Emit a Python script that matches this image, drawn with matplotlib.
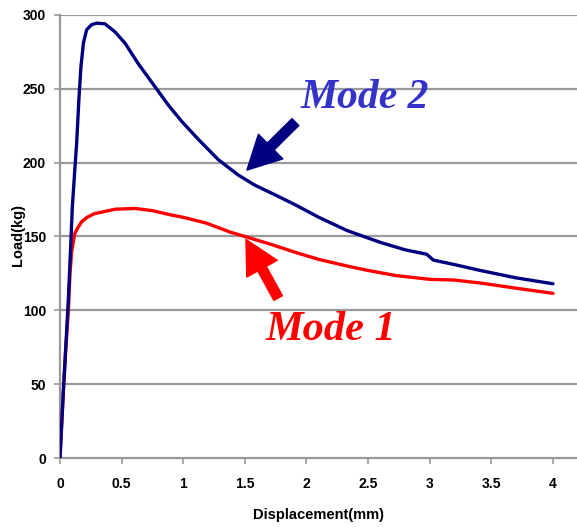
import matplotlib
matplotlib.use("Agg")
import matplotlib.pyplot as plt

# Mode 2 (blue)
disp_mode2 = [0, 0.027, 0.05, 0.068, 0.085, 0.1, 0.12, 0.135, 0.154, 0.17, 0.19, 0.216,
              0.257, 0.3, 0.365, 0.446, 0.527, 0.635, 0.757, 0.879, 0.987, 1.12, 1.285,
              1.447, 1.58, 1.75, 1.92, 2.1, 2.33, 2.6, 2.8, 2.975, 3.03, 3.2, 3.41, 3.7, 4.0]
load_mode2 = [0, 45, 80, 108, 140, 170, 195, 213, 244, 265, 281, 290,
              293.5, 294.5, 294, 288.6, 281, 267, 253, 239, 228, 216, 202,
              191.6, 184.8, 178, 171, 163, 154, 146, 141, 138, 134, 131, 127, 122, 118]

# Mode 1 (red)
disp_mode1 = [0, 0.027, 0.05, 0.068, 0.081, 0.095, 0.12, 0.145, 0.176, 0.22, 0.28, 0.365,
              0.45, 0.61, 0.75, 0.906, 1.0, 1.19, 1.38, 1.46, 1.7, 1.92, 2.1, 2.33, 2.5,
              2.73, 3.0, 3.2, 3.41, 3.7, 4.0]
load_mode1 = [0, 45, 78, 100, 125, 140, 152, 156, 160, 163, 165.5, 167,
              168.5, 169, 167.5, 164.5, 163, 159, 153, 151, 145, 139, 134.5, 130, 127,
              123.5, 121, 120.5, 118.5, 115, 111.5]

xticks = [0, 0.5, 1, 1.5, 2, 2.5, 3, 3.5, 4]
xticklabels = ["0", "0.5", "1", "1.5", "2", "2.5", "3", "3.5", "4"]
yticks = [0, 50, 100, 150, 200, 250, 300]

tickfont = ["Liberation Sans", "DejaVu Sans"]

fig = plt.figure(figsize=(5.77, 5.27), dpi=100)
ax = fig.add_axes([60 / 577, 1 - 458 / 527, 1 - 60 / 577, (458 - 15) / 527])

grid_c = "#999999"
for yv in yticks[1:]:
    ax.axhline(yv, color=grid_c, lw=1.6, zorder=1)

ax.plot(disp_mode1, load_mode1, color="#FF0000", lw=2.4, zorder=3,
        solid_joinstyle="round", solid_capstyle="round")
ax.plot(disp_mode2, load_mode2, color="#000080", lw=2.4, zorder=4,
        solid_joinstyle="round", solid_capstyle="round")

ax.set_xlim(0, 4.195)
ax.set_ylim(0, 300)
ax.set_xticks(xticks)
ax.set_xticklabels(xticklabels)
ax.set_yticks(yticks)
for s in ["top", "right"]:
    ax.spines[s].set_visible(False)
for s in ["left", "bottom"]:
    ax.spines[s].set_color(grid_c)
    ax.spines[s].set_linewidth(1.6)
ax.tick_params(axis="both", colors=grid_c, length=4, width=1.2, direction="out")
for lab in ax.get_xticklabels() + ax.get_yticklabels():
    lab.set_color("black")
    lab.set_fontweight("bold")
    lab.set_fontsize(10)
    lab.set_family(tickfont)
ax.tick_params(axis="x", pad=10)
ax.tick_params(axis="y", pad=6)

ax.set_xlabel("Displacement(mm)", fontsize=10.5, fontweight="bold", family=tickfont)
ax.xaxis.set_label_coords((318 - 60) / 517, -(515 - 458) / 443)
ax.set_ylabel("Load(kg)", fontsize=10.5, fontweight="bold", family=tickfont)
ax.yaxis.set_label_coords(-(60 - 18) / 517, (458 - 235) / 443)
ax.yaxis.label.set_va("center")
ax.xaxis.label.set_va("center")

serif = ["Liberation Serif", "DejaVu Serif"]
ax.annotate("", xy=(1.517, 195), xytext=(1.91, 227.5),
            arrowprops=dict(facecolor="#000080", edgecolor="#000080", width=7,
                            headwidth=25, headlength=24), zorder=5)
ax.annotate("", xy=(1.509, 148), xytext=(1.77, 108.3),
            arrowprops=dict(facecolor="#FF0000", edgecolor="#FF0000", width=7,
                            headwidth=25, headlength=24), zorder=5)
ax.text(2.47, 244, "Mode 2", color="#3333CC", fontsize=30, fontweight="bold",
        fontstyle="italic", family=serif, ha="center", va="center", zorder=6)
ax.text(2.2, 87, "Mode 1", color="#FF0000", fontsize=30.5, fontweight="bold",
        fontstyle="italic", family=serif, ha="center", va="center", zorder=6)

fig.savefig("out.png", dpi=100)
